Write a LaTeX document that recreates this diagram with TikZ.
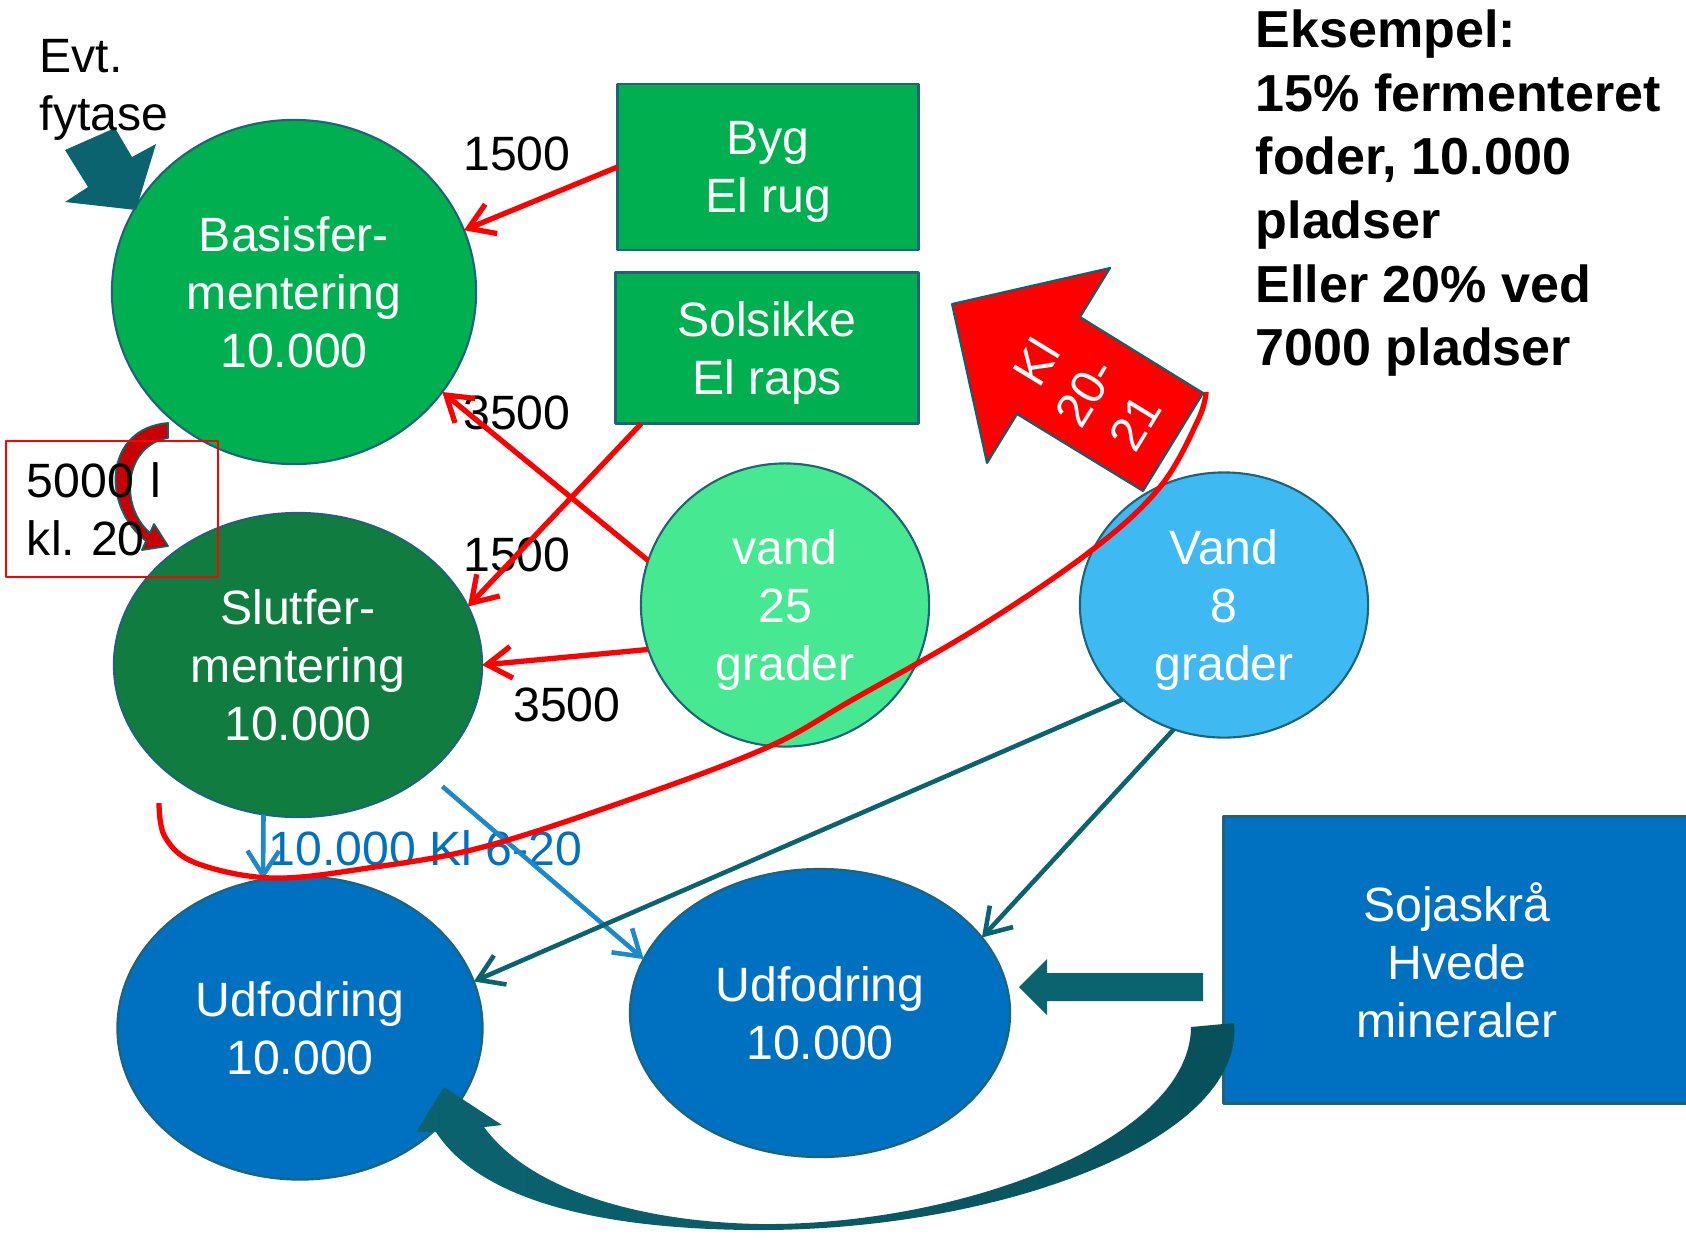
\documentclass[tikz,border=0pt]{standalone}
\usepackage{fontspec}
\setmainfont{Liberation Sans}
\usetikzlibrary{shapes.geometric,arrows.meta}
\definecolor{gron}{RGB}{0,176,80}
\definecolor{morkgron}{RGB}{16,124,64}
\definecolor{lysgron}{RGB}{71,232,146}
\definecolor{lysbla}{RGB}{62,185,242}
\definecolor{bla}{RGB}{0,112,192}
\definecolor{pilbla}{RGB}{28,138,200}
\definecolor{petrol}{RGB}{11,99,112}
\definecolor{morkpetrol}{RGB}{8,80,90}
\definecolor{kant}{RGB}{30,100,120}
\definecolor{rod}{RGB}{255,0,0}
\definecolor{morkrod}{RGB}{200,0,0}
\frenchspacing
\begin{document}
\begin{tikzpicture}[x=0.01cm,y=-0.01cm,line join=round,
	>={Straight Barb[length=7pt,width=9pt]},
	tekst/.style={font=\fontsize{13.7}{16.4}\selectfont,text depth=0pt},
	cirkel/.style={ellipse,draw=kant,line width=0.6pt,inner sep=0pt,outer sep=0pt,text=white,align=center,tekst},
	kasse/.style={rectangle,draw=kant,line width=0.8pt,inner sep=0pt,outer sep=0pt,text=white,align=center,tekst},
	rodpil/.style={rod,line width=1.5pt,->},
	blapil/.style={pilbla,line width=1.3pt,->},
	petrolpil/.style={petrol,line width=1.3pt,->}]
	\useasboundingbox (0,0) rectangle (1686,1239);
	% cirkler
	\node[cirkel,fill=gron,minimum width=3.64cm,minimum height=3.44cm] (basis) at (294,292) {Basisfer-\\mentering\\10.000};
	\node[cirkel,fill=morkgron,minimum width=3.68cm,minimum height=3.04cm] (slut) at (298,665) {Slutfer-\\mentering\\10.000};
	\node[cirkel,fill=lysgron,minimum width=2.88cm,minimum height=2.83cm] (vandvarm) at (785,605) {vand\\25\\grader};
	\node[cirkel,fill=lysbla,minimum width=2.88cm,minimum height=2.65cm] (vandkold) at (1224,605) {Vand\\8\\grader};
	\node[cirkel,fill=bla,minimum width=3.65cm,minimum height=3.03cm] (udfod1) at (300,1028) {Udfodring\\10.000};
	\node[cirkel,fill=bla,minimum width=3.80cm,minimum height=2.88cm] (udfod2) at (820,1013) {Udfodring\\10.000};
	% kasser
	\node[kasse,fill=gron,minimum width=3.01cm,minimum height=1.66cm] (byg) at (768,167) {Byg\\El rug};
	\node[kasse,fill=gron,minimum width=3.03cm,minimum height=1.51cm] (solsikke) at (767,348) {Solsikke\\El raps};
	\node[kasse,fill=bla,minimum width=4.66cm,minimum height=2.87cm] (soja) at (1457,960) {Sojaskrå\\Hvede\\mineraler};
	% tykke pile
	\fill[petrol] (65,150)--(115,128)--(132,157)--(156,144)--(136,210)--(65,202)--(88,187)--cycle;
	\fill[petrol] (1203,973)--(1047,973)--(1047,959)--(1019,987)--(1047,1015)--(1047,1001)--(1203,1001)--cycle;
	\shade[left color=petrol,right color=morkpetrol] (1234,1023) .. controls (1245,1140) and (1000,1230) .. (760,1230)
		.. controls (600,1230) and (480,1200) .. (436,1132) -- (416,1132) -- (444,1087) -- (502,1125) -- (484,1127)
		.. controls (530,1190) and (640,1222) .. (760,1224)
		.. controls (960,1226) and (1190,1140) .. (1191,1027) -- cycle;
	\filldraw[fill=morkrod,draw=petrol,line width=0.5pt] (168,423) .. controls (105,428) and (100,505) .. (146,541)
		-- (142,550) -- (168,546) -- (154,524) -- (150,533) .. controls (118,505) and (125,445) .. (168,438) -- cycle;
	% tekster
	\node[tekst,anchor=west,align=left,inner sep=0pt] (evt) at (39,85) {Evt.\\fytase};
	\node[tekst] (tal1) at (517,154) {1500};
	\node[tekst] (tal2) at (517,413) {3500};
	\node[tekst] (tal3) at (517,555) {1500};
	\node[tekst] (tal4) at (567,705) {3500};
	\node[tekst,text=bla,anchor=west,inner sep=0pt] (klok) at (268,848) {10.000 Kl 6-20};
	\node[font=\bfseries\fontsize{14.8}{18.1}\selectfont,anchor=north west,align=left,inner sep=0pt] (eks) at (1255,9)
		{Eksempel:\\15\% fermenteret\\foder, 10.000\\pladser\\Eller 20\% ved\\7000 pladser};
	% pile
	\draw[rodpil] (byg.west) -- (basis.20);
	\draw[rodpil] (vandvarm.162) -- (basis.-34);
	\draw[rodpil] (solsikke.211) -- (slut.19);
	\draw[rodpil] (vandvarm.198) -- (slut.east);
	\draw[blapil] (slut.257) -- (udfod1.104);
	\draw[blapil,shorten <=0.2cm] (slut.-40) -- (udfod2.163);
	\draw[petrolpil] (vandkold.223) -- (udfod1.15);
	\draw[petrolpil] (vandkold.248) -- (udfod2.25);
	% kl 20-21
	\filldraw[fill=rod,draw=petrol,line width=0.6pt] (1203,393)--(1143,491)--(1017,414)--(987,463)--(952,304)--(1110,268)--(1080,317)--cycle;
	\node[tekst,text=white,align=center,rotate=58.6] (kl) at (1085,392) {Kl\\20-\\21};
	\draw[rod,line width=1.5pt] plot[smooth,tension=0.6] coordinates {(1206,392) (1198,420) (1160,487) (1092,550) (979,627) (852,700) (768,747) (634,798) (483,847) (368,868) (272,878) (196,863) (165,837) (159,803)};
	% boks
	\node[draw=rod,line width=0.6pt,inner sep=0pt,text width=1.7cm,minimum width=2.12cm,minimum height=1.36cm,align=left,font=\fontsize{13.7}{16.4}\selectfont] (boks) at (112,509) {5000 l\\kl. 20};
\end{tikzpicture}
\end{document}
